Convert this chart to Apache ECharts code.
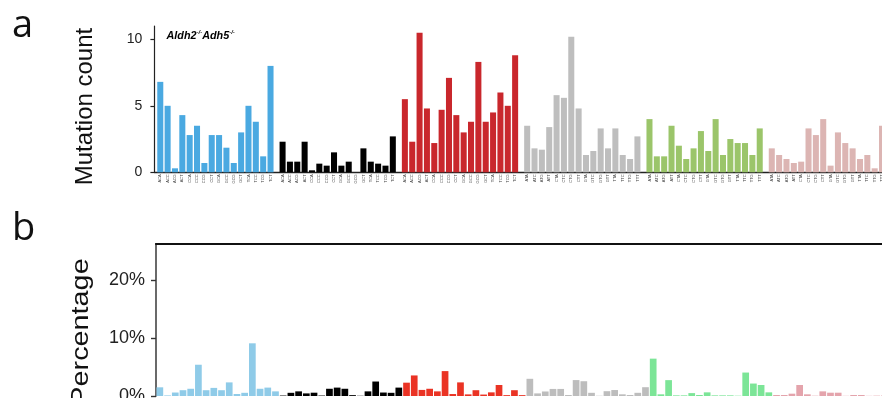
<!DOCTYPE html>
<html>
<head>
<meta charset="utf-8">
<script src="https://cdn.jsdelivr.net/npm/echarts@6/dist/echarts.min.js"></script>
<style>
  html, body { margin: 0; padding: 0; background: #ffffff; }
  #chart { width: 882px; height: 398px; }
</style>
</head>
<body>
<div id="chart"></div>
<script>
// Six single-base substitution classes, each split into 16 trinucleotide contexts
const substitutions = ['C>A', 'C>G', 'C>T', 'T>A', 'T>C', 'T>G'];
const flankBases = ['A', 'C', 'G', 'T'];

// Panel a: mutation counts per context (Aldh2-/-Adh5-/-)
const countCA = [6.8, 5.0, 0.3, 4.3, 2.8, 3.5, 0.7, 2.8, 2.8, 1.85, 0.7, 3.0, 5.0, 3.8, 1.2, 8.0];
const countCG = [2.3, 0.8, 0.8, 2.3, 0.15, 0.65, 0.5, 1.5, 0.5, 0.8, 0, 1.8, 0.8, 0.65, 0.5, 2.7];
const countCT = [5.5, 2.3, 10.5, 4.8, 2.2, 4.7, 7.1, 4.3, 3.0, 3.8, 8.3, 3.8, 4.5, 6.0, 5.0, 8.8];
const countTA = [3.5, 1.8, 1.7, 3.4, 5.8, 5.6, 10.2, 4.8, 1.3, 1.6, 3.3, 1.8, 3.3, 1.3, 1.0, 2.7];
const countTC = [4.0, 1.2, 1.2, 3.5, 2.0, 1.0, 1.8, 3.1, 1.6, 4.0, 1.3, 2.5, 2.2, 2.2, 1.3, 3.3];
const countTG = [1.8, 1.3, 1.0, 0.7, 0.8, 3.3, 2.8, 4.0, 0.5, 3.0, 2.2, 1.8, 1.0, 1.3, 0.3, 3.5];

// Panel b: percentage of mutations per context
const pctCA = [1.5, 0.1, 0.6, 1.0, 1.25, 5.4, 1.0, 1.4, 1.0, 2.35, 0.35, 0.55, 9.1, 1.25, 1.45, 0.8];
const pctCG = [0.08, 0.55, 0.8, 0.45, 0.57, 0.08, 1.25, 1.45, 1.25, 0.15, 0.04, 0.8, 2.5, 0.6, 0.55, 1.45];
const pctCT = [2.3, 3.55, 1.05, 1.25, 0.8, 4.3, 0.34, 2.35, 0.28, 1.0, 0.25, 0.63, 1.9, 0.15, 1.0, 0.15];
const pctTA = [2.97, 0.45, 0.78, 1.22, 1.22, 0.17, 2.75, 2.55, 0.55, 0.04, 0.83, 1.03, 0.29, 0.17, 0.55, 1.52];
const pctTC = [6.45, 0.29, 2.74, 0.11, 0.11, 0.5, 0.17, 0.63, 0.11, 0.11, 0.11, 0.05, 4.05, 2.15, 1.9, 0.63];
const pctTG = [0.17, 0.17, 0.4, 1.9, 0.29, 0.05, 0.8, 0.57, 0.57, 0.03, 0.17, 0.17, 0.03, 0.06, 0.1, 0.1];

const countTicks = [0, 5, 10];
const pctTicks = [0, 10, 20];

const countSeries = [countCA, countCG, countCT, countTA, countTC, countTG];
const pctSeries = [pctCA, pctCG, pctCT, pctTA, pctTC, pctTG];
const countColors = ['#4aa9e1', '#000000', '#c9272c', '#bebebe', '#9bc56a', '#dcb5b3'];
const pctColors = ['#8fcbe8', '#000000', '#ea3324', '#bdbdbd', '#7ce597', '#e4a4ac'];

const FONT = '"Liberation Sans", Arial, Helvetica, sans-serif';

function contextLabels(sub) {
  const mid = sub[0];
  const out = [];
  for (const l of flankBases) for (const r of flankBases) out.push(l + mid + r);
  return out;
}
const groupContexts = substitutions.map(contextLabels);
const allContexts = groupContexts.flat();

// layout of the two panels
const A_LEFT = 156.6, A_PITCH = 122.3, A_WIDTH = 117.6, A_TOP = 26, A_HEIGHT = 146.3;
const COUNT_MAX = 11;
const PCT_MAX = 26.3;

const grids = [];
const xAxes = [];
const yAxes = [];
const series = [];

substitutions.forEach((sub, i) => {
  grids.push({ left: A_LEFT + i * A_PITCH, width: A_WIDTH, top: A_TOP, height: A_HEIGHT, outerBoundsMode: 'none' });
  xAxes.push({
    type: 'category', gridIndex: i, data: groupContexts[i],
    axisLine: { show: false }, axisTick: { show: false },
    axisLabel: { interval: 0, rotate: 90, fontSize: 4, color: '#444', margin: 2, fontFamily: FONT }
  });
  const yAx = { type: 'value', gridIndex: i, min: 0, max: COUNT_MAX, splitLine: { show: false } };
  if (i === 0) {
    Object.assign(yAx, {
      offset: 2.2,
      axisLine: { show: true, lineStyle: { color: '#222', width: 1.2 } },
      axisTick: { show: true, length: 4, lineStyle: { color: '#222', width: 1.2 }, customValues: countTicks },
      axisLabel: { fontSize: 14, color: '#222', margin: 12, fontFamily: FONT, customValues: countTicks }
    });
  } else {
    yAx.show = false;
  }
  yAxes.push(yAx);
  series.push({
    type: 'bar', name: sub, xAxisIndex: i, yAxisIndex: i,
    data: countSeries[i], barCategoryGap: '18%',
    itemStyle: { color: countColors[i] }, silent: true
  });
});

// continuous baseline under panel a (grid 6)
grids.push({ left: 154.4, right: 0, top: A_TOP, height: A_HEIGHT, outerBoundsMode: 'none' });
xAxes.push({
  type: 'value', gridIndex: 6, min: 0, max: 1,
  axisLine: { show: true, lineStyle: { color: '#222', width: 1.3 } },
  axisTick: { show: false }, axisLabel: { show: false }, splitLine: { show: false }
});
yAxes.push({ type: 'value', gridIndex: 6, show: false });

// panel b (grid 7): bottom category axis 7, top frame axis 8, value axis 7
grids.push({ left: 156, width: 740, top: 243.7, height: 152.3, outerBoundsMode: 'none' });
xAxes.push({
  type: 'category', gridIndex: 7, data: allContexts,
  axisLine: { show: false }, axisTick: { show: false }, axisLabel: { show: false }
});
xAxes.push({
  type: 'category', gridIndex: 7, data: allContexts, position: 'top',
  axisLine: { show: true, lineStyle: { color: '#111', width: 2.2 } },
  axisTick: { show: false }, axisLabel: { show: false }
});
yAxes.push({
  type: 'value', gridIndex: 7, min: 0, max: PCT_MAX, splitLine: { show: false },
  axisLine: { show: true, lineStyle: { color: '#444', width: 1.6 } },
  axisTick: { show: true, length: 5, lineStyle: { color: '#333', width: 1.4 }, customValues: pctTicks },
  axisLabel: { fontSize: 18, color: '#222', margin: 11, fontFamily: FONT, customValues: pctTicks,
               formatter: v => v + '%' }
});
const pctData = [];
pctSeries.forEach((arr, g) => arr.forEach(v => pctData.push({ value: v, itemStyle: { color: pctColors[g] } })));
series.push({
  type: 'bar', name: 'Percentage', xAxisIndex: 7, yAxisIndex: 7,
  data: pctData, barCategoryGap: '13%', silent: true
});

const chart = echarts.init(document.getElementById('chart'), null, { renderer: 'canvas' });
chart.setOption({
  animation: false,
  backgroundColor: '#ffffff',
  textStyle: { fontFamily: FONT },
  grid: grids,
  xAxis: xAxes,
  yAxis: yAxes,
  series: series,
  graphic: [
    { type: 'text', x: 12, y: 26, style: { text: 'a', font: '38px "Open Sans", sans-serif', fill: '#111', verticalAlign: 'middle' } },
    { type: 'text', x: 12, y: 229.5, style: { text: 'b', font: '38px "Open Sans", sans-serif', fill: '#111', verticalAlign: 'middle' } },
    { type: 'text', x: 85.5, y: 106.5, rotation: Math.PI / 2,
      style: { text: 'Mutation count', font: '24px ' + FONT, fill: '#111', align: 'center', verticalAlign: 'middle' } },
    { type: 'text', x: 81, y: 332, rotation: Math.PI / 2, scaleX: 1.2,
      style: { text: 'Percentage', font: '24px ' + FONT, fill: '#111', align: 'center', verticalAlign: 'middle' } },
    { type: 'text', x: 166.5, y: 36,
      style: {
        text: '{m|Aldh2}{s|-/-}{m|Adh5}{s|-/-}', verticalAlign: 'middle',
        rich: {
          m: { fontSize: 10.8, fontWeight: 'bold', fontStyle: 'italic', fontFamily: FONT, color: '#111', lineHeight: 13 },
          s: { fontSize: 6, fontWeight: 'bold', fontStyle: 'italic', fontFamily: FONT, color: '#111', lineHeight: 13, verticalAlign: 'top' }
        }
      } }
  ]
});
</script>
</body>
</html>
